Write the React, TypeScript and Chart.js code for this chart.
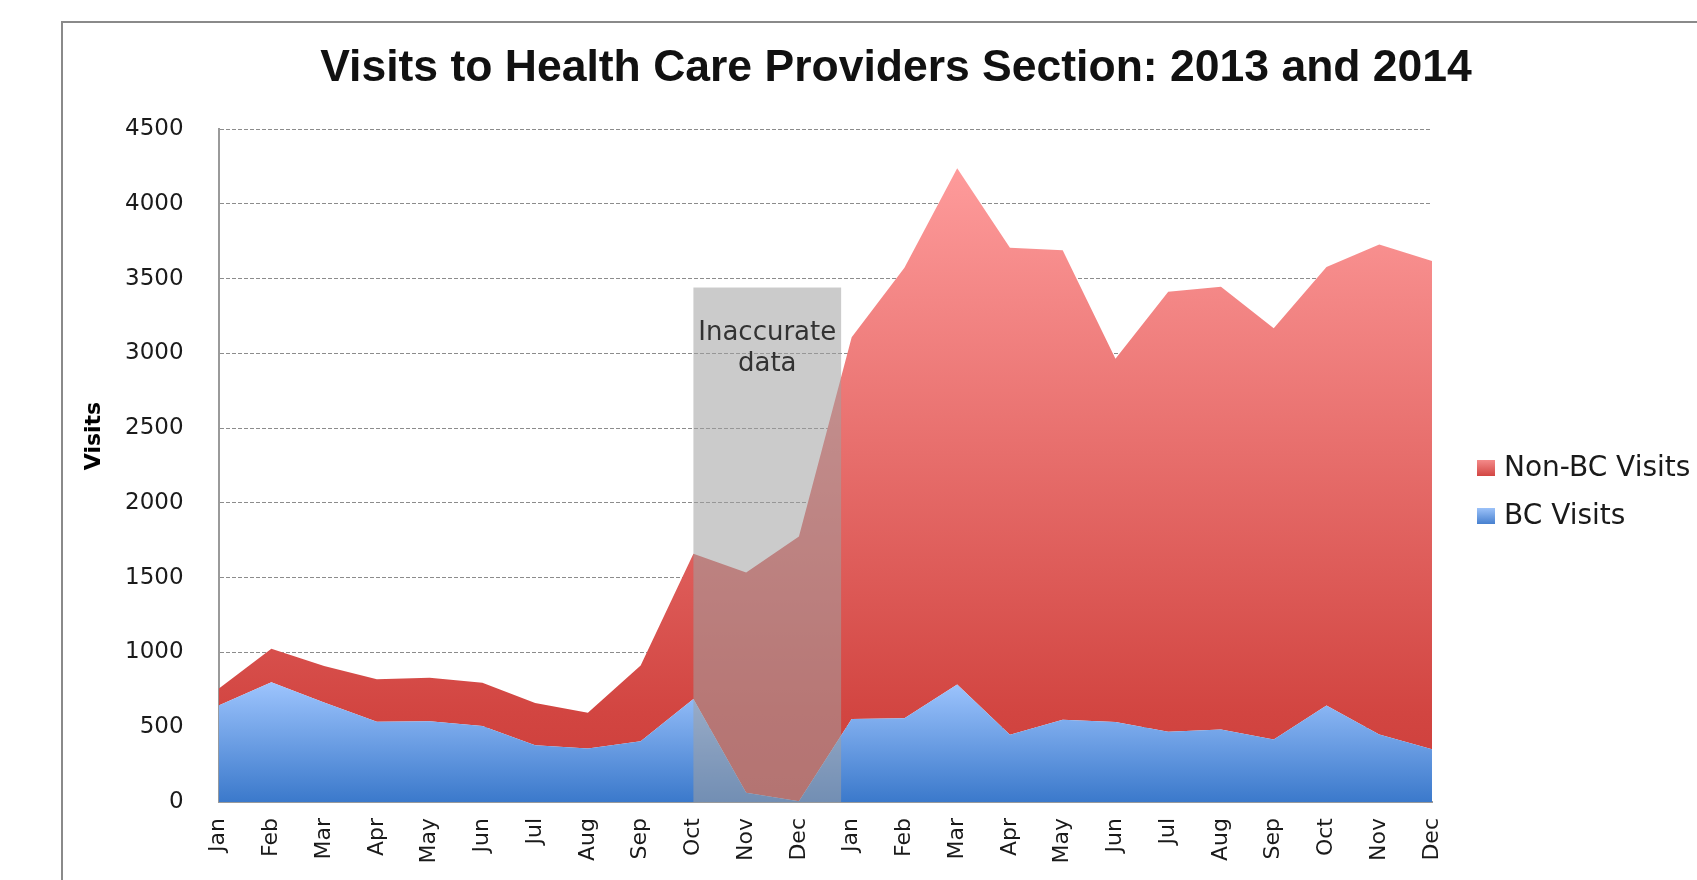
import React, { useEffect, useRef } from 'react';
import { Chart, registerables } from 'chart.js';

Chart.register(...registerables);

// ---------- data ----------
const CATEGORIES = [
  'Jan', 'Feb', 'Mar', 'Apr', 'May', 'Jun', 'Jul', 'Aug', 'Sep', 'Oct', 'Nov', 'Dec',
  'Jan', 'Feb', 'Mar', 'Apr', 'May', 'Jun', 'Jul', 'Aug', 'Sep', 'Oct', 'Nov', 'Dec',
];
const BC_VISITS = [645, 800, 665, 537, 540, 508, 380, 358, 407, 688, 62, 5, 555, 560, 786, 450, 550, 535, 470, 485, 418, 646, 452, 352];
const NON_BC_VISITS = [112, 225, 244, 283, 291, 290, 282, 239, 506, 972, 1473, 1770, 2552, 3012, 3452, 3256, 3140, 2429, 2942, 2960, 2749, 2931, 3276, 3265];
const SERIES_LABELS = ['BC Visits', 'Non-BC Visits'];
const Y_MIN = 0;
const Y_MAX = 4500;
const Y_STEP = 500;
const TITLE = 'Visits to Health Care Providers Section: 2013 and 2014';
const Y_AXIS_TITLE = 'Visits';
const ANNOTATION_LINES = ['Inaccurate', 'data'];
const ANNOTATION_FROM = 9; // Oct 2013
const ANNOTATION_TO = 11.8; // just before Jan 2014
const ANNOTATION_TOP = 3440;

// ---------- styles ----------
const BLUE_STOPS: [number, string][] = [[0, '#9dc4fd'], [1, '#3b79cb']];
const RED_STOPS: [number, string][] = [[0, '#fe9b9b'], [0.86, '#d24541'], [1, '#cc3e3a']];
const TEXT_COLOR = '#1a1a1a';

function verticalGradient(chart: any, topValue: number, stops: [number, string][]) {
  const { ctx, chartArea, scales } = chart;
  if (!chartArea || !scales || !scales.y) return stops[stops.length - 1][1];
  const y = scales.y;
  const g = ctx.createLinearGradient(0, y.getPixelForValue(topValue), 0, y.getPixelForValue(0));
  stops.forEach(([o, c]) => g.addColorStop(o, c));
  return g;
}

const decorPlugin = {
  id: 'decor',
  afterDatasetsDraw(chart: any) {
    const { ctx, scales } = chart;
    const x = scales.x;
    const y = scales.y;
    const left = x.getPixelForValue(ANNOTATION_FROM);
    const right = x.getPixelForValue(ANNOTATION_TO);
    const top = y.getPixelForValue(ANNOTATION_TOP);
    const bottom = y.getPixelForValue(0);
    ctx.save();
    ctx.fillStyle = 'rgba(160,160,160,0.55)';
    ctx.fillRect(left, top, right - left, bottom - top);
    ctx.fillStyle = '#333333';
    ctx.font = '26px "DejaVu Sans"';
    ctx.textAlign = 'center';
    ctx.textBaseline = 'alphabetic';
    const cx = (left + right) / 2;
    ANNOTATION_LINES.forEach((line, i) => {
      ctx.fillText(line, cx, top + 52 + i * 31);
    });
    ctx.restore();
  },
  afterDraw(chart: any) {
    const { ctx, chartArea } = chart;
    ctx.save();
    // title
    ctx.fillStyle = '#111111';
    ctx.font = 'bold 44.5px "Liberation Sans"';
    ctx.textAlign = 'center';
    ctx.textBaseline = 'alphabetic';
    ctx.fillText(TITLE, 896, 81);

    // y axis title
    ctx.save();
    ctx.translate(94, 436);
    ctx.rotate(-Math.PI / 2);
    ctx.font = 'bold 22px "DejaVu Sans"';
    ctx.textAlign = 'center';
    ctx.textBaseline = 'middle';
    ctx.fillStyle = '#000000';
    ctx.fillText(Y_AXIS_TITLE, 0, 0);
    ctx.restore();

    // legend (reverse dataset order)
    const datasets = chart.data.datasets.slice().reverse();
    const boxX = chartArea.right + 45;
    const rowY = [468, 516];
    const boxStops = [
      [[0, '#f48a89'], [1, '#d24643']],
      [[0, '#9cc2f9'], [1, '#4780cf']],
    ];
    datasets.forEach((ds: any, i: number) => {
      const cy = rowY[i];
      const g = ctx.createLinearGradient(0, cy - 8, 0, cy + 8);
      const stops = ds.label === SERIES_LABELS[1] ? boxStops[0] : boxStops[1];
      stops.forEach(([o, c]: any) => g.addColorStop(o, c));
      ctx.fillStyle = g;
      ctx.fillRect(boxX, cy - 8, 18, 16);
      ctx.fillStyle = TEXT_COLOR;
      ctx.font = '28px "DejaVu Sans"';
      ctx.textAlign = 'left';
      ctx.textBaseline = 'middle';
      ctx.fillText(ds.label, boxX + 27, cy + 1);
    });
    ctx.restore();
  },
};

export default function App() {
  const canvasRef = useRef<HTMLCanvasElement | null>(null);

  useEffect(() => {
    const canvas = canvasRef.current;
    if (!canvas) return;
    const bcMax = Math.max(...BC_VISITS);
    const totalMax = Math.max(...BC_VISITS.map((v, i) => v + NON_BC_VISITS[i]));
    const chart = new Chart(canvas, {
      type: 'line',
      data: {
        labels: CATEGORIES,
        datasets: [
          {
            label: SERIES_LABELS[0],
            data: BC_VISITS,
            fill: 'origin',
            backgroundColor: (c: any) => verticalGradient(c.chart, bcMax, BLUE_STOPS),
            borderWidth: 0,
            borderColor: 'rgba(0,0,0,0)',
            pointRadius: 0,
            tension: 0,
          },
          {
            label: SERIES_LABELS[1],
            data: NON_BC_VISITS,
            fill: '-1',
            backgroundColor: (c: any) => verticalGradient(c.chart, totalMax, RED_STOPS),
            borderWidth: 0,
            borderColor: 'rgba(0,0,0,0)',
            pointRadius: 0,
            tension: 0,
          },
        ],
      },
      options: {
        responsive: false,
        animation: false,
        events: [],
        layout: { padding: { top: 129, right: 265, bottom: 0, left: 0 } },
        plugins: {
          legend: { display: false },
          title: { display: false },
          tooltip: { enabled: false },
        },
        scales: {
          x: {
            type: 'category',
            offset: false,
            z: 1,
            grid: { display: false, drawTicks: false },
            border: { display: true, color: '#9a9a9a', width: 2 },
            ticks: {
              autoSkip: false,
              minRotation: 90,
              maxRotation: 90,
              padding: 16,
              color: TEXT_COLOR,
              font: { family: 'DejaVu Sans', size: 22 },
            },
            afterFit: (scale: any) => {
              scale.height = 78;
            },
          },
          y: {
            stacked: true,
            min: Y_MIN,
            max: Y_MAX,
            grid: { color: '#8c8c8c', lineWidth: 1, drawTicks: false },
            border: { display: true, color: '#9a9a9a', width: 2, dash: [4, 2] },
            ticks: {
              stepSize: Y_STEP,
              padding: 35,
              color: TEXT_COLOR,
              font: { family: 'DejaVu Sans', size: 23 },
              callback: (v: any) => String(v),
            },
            afterFit: (scale: any) => {
              scale.width = 218.6;
            },
          },
        },
      },
      plugins: [decorPlugin],
    } as any);
    return () => chart.destroy();
  }, []);

  return (
    <div style={{ position: 'fixed', left: 0, top: 0, width: 1697, height: 880, background: '#ffffff', overflow: 'hidden' }}>
      <div
        style={{
          position: 'absolute',
          left: 61,
          top: 21,
          width: 1700,
          height: 900,
          borderLeft: '2px solid #8a8a8a',
          borderTop: '2px solid #8a8a8a',
        }}
      />
      <canvas ref={canvasRef} width={1697} height={880} style={{ position: 'absolute', left: 0, top: 0 }} />
    </div>
  );
}
